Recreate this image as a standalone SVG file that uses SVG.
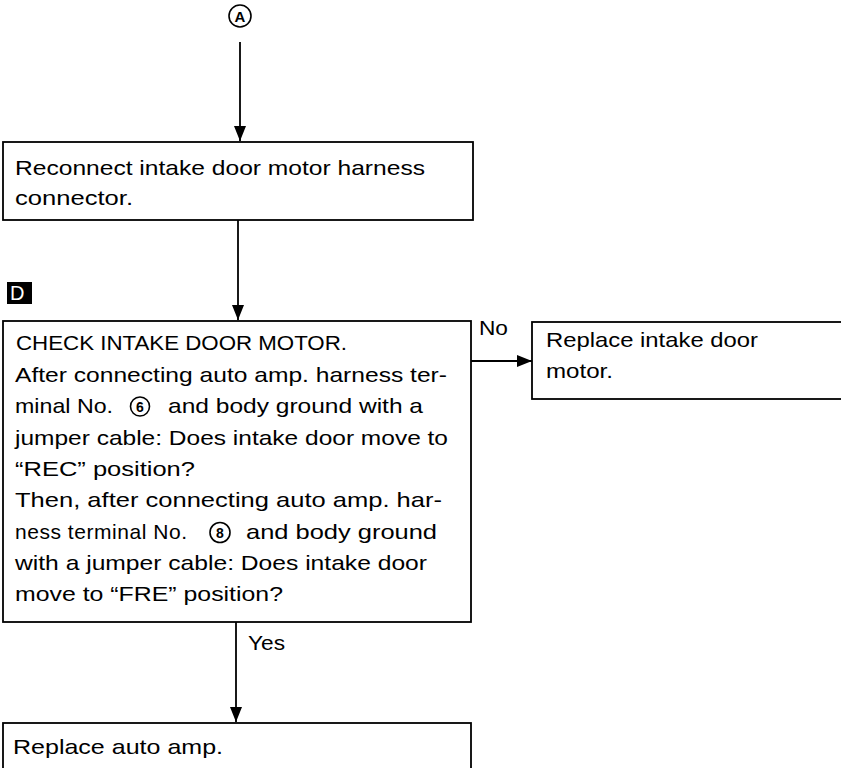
<svg xmlns="http://www.w3.org/2000/svg" width="841" height="768" viewBox="0 0 841 768">
<style>
.box{fill:#fff;stroke:#000;stroke-width:1.8}
.t{font-family:"Liberation Sans",Arial,sans-serif;font-size:21px;fill:#000}
.c{fill:none;stroke:#000;stroke-width:1.8}
.ring{fill:none;stroke:#000;stroke-width:1.6}
.dg{font-family:"Liberation Sans",Arial,sans-serif;font-size:14px;font-weight:bold;fill:#000}
</style>
<defs>
<marker id="ah" markerWidth="15" markerHeight="12" refX="15" refY="6" orient="auto" markerUnits="userSpaceOnUse">
<path d="M0,0 L15,6 L0,12 Z" fill="#000"/>
</marker>
</defs>
<rect width="841" height="768" fill="#fff"/>
<g id="start">
<circle cx="240" cy="16" r="11" fill="none" stroke="#000" stroke-width="1.6"/>
<text x="240" y="21.5" text-anchor="middle" font-family="Liberation Sans,Arial,sans-serif" font-size="15" font-weight="bold">A</text>
</g>
<g id="reconnect">
<rect class="box" x="3" y="142" width="470" height="78"/>
<text class="t" x="15" y="175" textLength="410" lengthAdjust="spacingAndGlyphs">Reconnect intake door motor harness</text>
<text class="t" x="15" y="205" textLength="118" lengthAdjust="spacingAndGlyphs">connector.</text>
</g>
<g id="label-d">
<rect x="7" y="282" width="25" height="22" fill="#000"/>
<text x="10" y="300" font-family="Liberation Sans,Arial,sans-serif" font-size="20" fill="#fff">D</text>
</g>
<g id="check">
<rect class="box" x="3" y="321" width="468" height="301"/>
<text class="t" x="16" y="350" textLength="331" lengthAdjust="spacingAndGlyphs">CHECK INTAKE DOOR MOTOR.</text>
<text class="t" x="15" y="382" textLength="432" lengthAdjust="spacingAndGlyphs">After connecting auto amp. harness ter-</text>
<text class="t" x="15" y="413" textLength="98" lengthAdjust="spacingAndGlyphs">minal No.</text>
<circle class="ring" cx="140" cy="406.5" r="9.5"/>
<text class="dg" x="140" y="411.5" text-anchor="middle">6</text>
<text class="t" x="168" y="413" textLength="255" lengthAdjust="spacingAndGlyphs">and body ground with a</text>
<text class="t" x="15" y="445" textLength="433" lengthAdjust="spacingAndGlyphs">jumper cable: Does intake door move to</text>
<text class="t" x="15" y="476" textLength="180" lengthAdjust="spacingAndGlyphs">“REC” position?</text>
<text class="t" x="15" y="507" textLength="427" lengthAdjust="spacingAndGlyphs">Then, after connecting auto amp. har-</text>
<text class="t" x="15" y="539" textLength="172" lengthAdjust="spacing">ness terminal No.</text>
<circle class="ring" cx="220" cy="532.5" r="10"/>
<text class="dg" x="220" y="537.5" text-anchor="middle">8</text>
<text class="t" x="246" y="539" textLength="191" lengthAdjust="spacingAndGlyphs">and body ground</text>
<text class="t" x="15" y="570" textLength="412" lengthAdjust="spacingAndGlyphs">with a jumper cable: Does intake door</text>
<text class="t" x="15" y="601" textLength="268" lengthAdjust="spacingAndGlyphs">move to “FRE” position?</text>
</g>
<g id="replace-motor">
<rect class="box" x="532" y="322" width="330" height="77"/>
<text class="t" x="546" y="347" textLength="212" lengthAdjust="spacingAndGlyphs">Replace intake door</text>
<text class="t" x="546" y="378" textLength="67" lengthAdjust="spacingAndGlyphs">motor.</text>
</g>
<g id="replace-amp">
<rect class="box" x="3" y="723" width="468" height="60"/>
<text class="t" x="13" y="754" textLength="210" lengthAdjust="spacingAndGlyphs">Replace auto amp.</text>
</g>
<g id="connectors">
<line class="c" x1="240" y1="42" x2="240" y2="141" marker-end="url(#ah)"/>
<line class="c" x1="238" y1="220" x2="238" y2="320" marker-end="url(#ah)"/>
<line class="c" x1="471" y1="361" x2="532" y2="361" marker-end="url(#ah)"/>
<text class="t" x="479" y="335" textLength="29" lengthAdjust="spacingAndGlyphs">No</text>
<line class="c" x1="236" y1="622" x2="236" y2="722" marker-end="url(#ah)"/>
<text class="t" x="248" y="650" textLength="37" lengthAdjust="spacingAndGlyphs">Yes</text>
</g>
</svg>
